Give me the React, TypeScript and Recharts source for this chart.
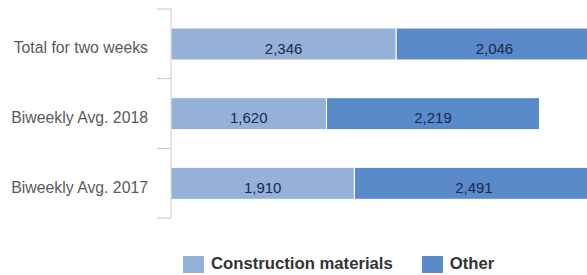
import React from 'react';
import { BarChart, Bar, XAxis, YAxis, Legend, LabelList } from 'recharts';

const categories = ['Total for two weeks', 'Biweekly Avg. 2018', 'Biweekly Avg. 2017'];
const constructionMaterials = [2346, 1620, 1910];
const other = [2046, 2219, 2491];
const seriesNames = ['Construction materials', 'Other'];

const LIGHT = '#95B1D8';
const DARK = '#5A8ACA';
const FONT = '"Liberation Sans", Arial, sans-serif';

const data = categories.map((name, i) => ({
    name,
    construction: constructionMaterials[i],
    other: other[i],
}));

// chart geometry
const TOP = 9;
const BOTTOM = 57;
const HEIGHT = 275;
const AXIS_W = 171;
const BAND = (HEIGHT - TOP - BOTTOM) / categories.length;

const fmt = (v: number) => v.toLocaleString('en-US');

const CategoryTick = (props: any) => {
    const { y, payload, index } = props;
    const top = y - BAND / 2;
    return (
        <g>
            <line x1={AXIS_W - 14} x2={AXIS_W} y1={top} y2={top} stroke="#C8C8C8" />
            {index === categories.length - 1 && (
                <line x1={AXIS_W - 14} x2={AXIS_W} y1={top + BAND} y2={top + BAND} stroke="#C8C8C8" />
            )}
            <text
                x={AXIS_W - 23}
                y={y + 4}
                textAnchor="end"
                dominantBaseline="central"
                fill="#5A5A5A"
                fontSize={15.8}
                fontFamily={FONT}
            >
                {payload.value}
            </text>
        </g>
    );
};

const BarValue = (props: any) => {
    const { x, y, width, height, value } = props;
    return (
        <text
            x={x + width / 2}
            y={y + height / 2 + 4}
            textAnchor="middle"
            dominantBaseline="central"
            fill="#1B2848"
            fontSize={15}
            fontFamily={FONT}
        >
            {fmt(value)}
        </text>
    );
};

const LegendContent = () => (
    <div style={{ display: 'flex', alignItems: 'center', fontFamily: FONT, fontWeight: 'bold', fontSize: 16.7, color: '#333' }}>
        <span style={{ width: 21, height: 17, background: LIGHT, display: 'inline-block' }} />
        <span style={{ marginLeft: 7 }}>{seriesNames[0]}</span>
        <span style={{ width: 21, height: 17, background: DARK, display: 'inline-block', marginLeft: 29 }} />
        <span style={{ marginLeft: 7 }}>{seriesNames[1]}</span>
    </div>
);

export default function App() {
    return (
        <div style={{ position: 'absolute', left: 0, top: 0, width: 587, height: 275, overflow: 'hidden', background: '#fff' }}>
            <BarChart
                width={651}
                height={HEIGHT}
                data={data}
                layout="vertical"
                margin={{ top: TOP, right: 0, bottom: BOTTOM, left: 0 }}
                barSize={32}
            >
                <XAxis type="number" domain={[0, 5000]} hide />
                <YAxis
                    type="category"
                    dataKey="name"
                    width={AXIS_W}
                    axisLine={{ stroke: '#C8C8C8' }}
                    tickLine={false}
                    tick={<CategoryTick />}
                    interval={0}
                />
                <Legend
                    verticalAlign="middle"
                    align="center"
                    layout="horizontal"
                    content={<LegendContent />}
                    wrapperStyle={{ top: 254, left: 183, width: 'auto', height: 'auto' }}
                />
                <Bar dataKey="construction" stackId="a" fill={LIGHT} stroke="#fff" strokeWidth={1} isAnimationActive={false}>
                    <LabelList dataKey="construction" content={<BarValue />} />
                </Bar>
                <Bar dataKey="other" stackId="a" fill={DARK} stroke="#fff" strokeWidth={1} isAnimationActive={false}>
                    <LabelList dataKey="other" content={<BarValue />} />
                </Bar>
            </BarChart>
        </div>
    );
}
